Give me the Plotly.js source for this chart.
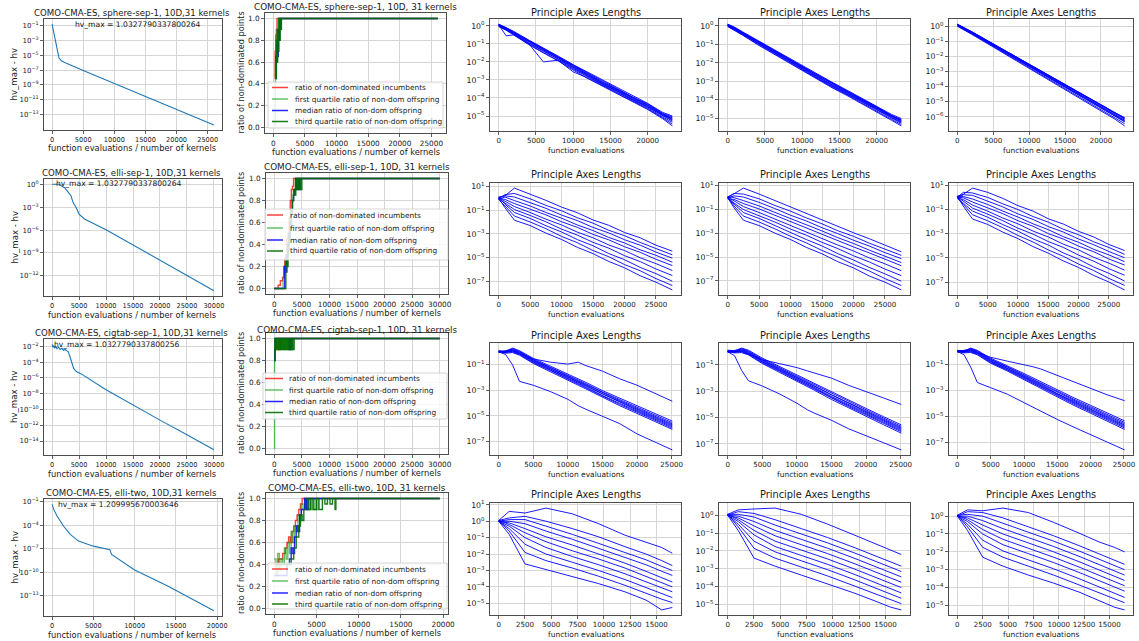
<!DOCTYPE html>
<html><head><meta charset="utf-8">
<script src="https://cdn.plot.ly/plotly-3.0.1.min.js"></script>
<style>html,body{margin:0;padding:0;background:#fff}#chart{width:1139px;height:641px}</style>
</head><body><div id="chart"></div>
<script>
// ---------------- text ----------------
const TITLES_HV = ['COMO-CMA-ES, sphere-sep-1, 10D,31 kernels','COMO-CMA-ES, elli-sep-1, 10D,31 kernels','COMO-CMA-ES, cigtab-sep-1, 10D,31 kernels','COMO-CMA-ES, elli-two, 10D,31 kernels'];
const TITLES_RATIO = ['COMO-CMA-ES, sphere-sep-1, 10D, 31 kernels','COMO-CMA-ES, elli-sep-1, 10D, 31 kernels','COMO-CMA-ES, cigtab-sep-1, 10D, 31 kernels','COMO-CMA-ES, elli-two, 10D, 31 kernels'];
const HV_MAX = ['hv_max = 1.0327790337800264','hv_max = 1.0327790337800264','hv_max = 1.0327790337800256','hv_max = 1.209995670003646'];
const PA_TITLE = 'Principle Axes Lengths';
const LEGEND_LABELS = ['ratio of non-dominated incumbents','first quartile ratio of non-dom offspring','median ratio of non-dom offspring','third quartile ratio of non-dom offspring'];
const XLAB_HV = 'function evaluations / number of kernels';
const XLAB_PA = 'function evaluations';
const YLAB_HV = 'hv_max - hv';
const YLAB_RATIO = 'ratio of non-dominated points';

// ---------------- tick labels ----------------
const HV_EXPS = [[-1,-3,-5,-7,-9,-11,-13],[0,-3,-6,-9,-12],[-2,-4,-6,-8,-10,-12,-14],[-1,-4,-7,-10,-13]];
const PA_EXPS = [[0,-1,-2,-3,-4,-5,-6],[1,-1,-3,-5,-7],[-1,-3,-5,-7],[1,0,-1,-2,-3,-4,-5]];
const RATIO_TICKS = [0,0.2,0.4,0.6,0.8,1.0];
const RATIO_LABELS = ['0.0','0.2','0.4','0.6','0.8','1.0'];

// ---------------- hv_max - hv (log10 values) ----------------
const HV1_X = [0,400,800,1100,1500,2300,5000,10000,15000,20000,26000];
const HV1_LOG = [-0.8,-2.4,-4.1,-5.35,-5.75,-6.1,-7.05,-8.8,-10.55,-12.35,-14.4];
const HV2_X = [0,1300,1700,2300,2900,3500,3900,4500,5000,6000,10000,15000,20000,25000,30000];
const HV2_LOG = [0,0,-0.2,-0.45,-0.95,-1.5,-2.4,-3.1,-3.9,-4.55,-5.95,-7.95,-9.95,-11.95,-13.95];
const HV3_X = [0,150,300,500,700,900,1200,1500,1800,2100,2400,2700,3000,3300,3600,4000,4500,5400,10000,15000,20000,25000,30000];
const HV3_LOG = [-1.75,-2.15,-1.9,-2.25,-2.0,-2.3,-2.15,-2.4,-2.25,-2.5,-2.4,-2.6,-2.7,-3.3,-4.1,-4.8,-5.2,-5.5,-7.5,-9.45,-11.35,-13.2,-15.1];
const HV4_X = [0,200,600,1000,1400,2200,3200,5000,6800,7000,7200,10000,14000,18000,19600];
const HV4_LOG = [-1.3,-1.95,-2.8,-3.5,-4.1,-5.15,-6.0,-6.65,-7.0,-7.1,-7.7,-9.7,-11.75,-13.95,-14.9];

// ---------------- ratio of non-dominated points ----------------
const RAT1_INC_X = [250,300,350,400,450,500,600,700,26000];
const RAT1_INC_Y = [0.45,0.7,0.6,0.85,0.8,0.9,1.0,1.0,1.0];
const RAT1_Q1_X = [250,300,350,400,450,500,550,600,700,800,900,1000,1100,1200,26000];
const RAT1_Q1_Y = [0.0,0.4,0.6,0.45,0.8,0.6,0.9,0.7,0.85,1.0,0.8,1.0,0.9,1.0,1.0];
const RAT1_MED_X = [400,450,500,600,700,800,900,1000,1100,1200,1300,26000];
const RAT1_MED_Y = [0.45,0.65,0.6,0.75,0.65,0.9,0.8,1.0,0.9,1.0,1.0,1.0];
const RAT1_Q3_X = [450,500,600,700,800,900,1000,1100,1200,1300,1400,26000];
const RAT1_Q3_Y = [0.45,0.8,0.6,0.9,0.7,1.0,0.8,1.0,0.9,1.0,1.0,1.0];

const RAT2_INC_X = [0,700,1100,1500,1700,1900,2100,2300,2500,2700,2900,3100,3300,3500,30000];
const RAT2_INC_Y = [0,0.03,0.07,0.1,0.2,0.27,0.3,0.45,0.5,0.65,0.8,0.9,0.93,1.0,1.0];
const RAT2_Q1_X = [0,1600,1800,2000,2200,2400,2600,2800,3000,3200,3400,3600,3800,30000];
const RAT2_Q1_Y = [0,0.1,0.2,0.25,0.3,0.4,0.5,0.6,0.7,0.8,0.85,0.9,1.0,1.0];
const RAT2_MED_X = [0,1900,2100,2300,2500,2700,2900,3100,3300,3500,3700,3900,4100,4300,4500,4700,30000];
const RAT2_MED_Y = [0,0.2,0.15,0.3,0.4,0.5,0.6,0.7,0.8,0.85,0.9,1.0,0.9,1.0,0.9,1.0,1.0];
const RAT2_Q3_X = [0,2100,2300,2500,2700,2900,3100,3300,3500,3700,3900,4100,4300,4500,4700,4900,5000,30000];
const RAT2_Q3_Y = [0,0.25,0.2,0.35,0.45,0.55,0.7,0.8,0.9,0.85,1.0,0.9,1.0,0.9,1.0,0.9,1.0,1.0];

const RAT3_INC_X = [0,100,200,800,900,1000,1100,1200,1300,1400,30000];
const RAT3_INC_Y = [0.8,0.9,1.0,0.9,1.0,0.9,1.0,0.95,1.0,1.0,1.0];
const RAT3_Q1_X = [0,50,150,300,450,600,750,900,1050,1200,1350,1500,1700,1900,2100,2300,2500,2700,2900,3100,3300,3500,30000];
const RAT3_Q1_Y = [0.0,0.8,1.0,0.9,1.0,0.9,1.0,0.9,1.0,0.9,1.0,0.9,1.0,0.9,1.0,0.9,1.0,0.9,1.0,0.9,1.0,1.0,1.0];
const RAT3_MED_X = [0,100,200,2700,2800,2900,3000,30000];
const RAT3_MED_Y = [0.8,0.9,1.0,0.9,1.0,0.9,1.0,1.0];
const RAT3_Q3_X = [0,100,250,400,550,700,850,1000,1150,1300,1450,1600,1800,2000,2200,2400,2600,2800,3000,3200,3400,3600,30000];
const RAT3_Q3_Y = [0.8,1.0,0.9,1.0,0.9,1.0,0.9,1.0,0.9,1.0,0.9,1.0,0.9,1.0,0.9,1.0,0.9,1.0,0.9,1.0,0.9,1.0,1.0];

const RAT4_INC_X = [0,500,1000,1300,1500,1700,1900,2100,2300,2500,2700,2900,3100,3300,19600];
const RAT4_INC_Y = [0.4,0.45,0.5,0.55,0.6,0.65,0.6,0.7,0.75,0.8,0.85,0.9,0.95,1.0,1.0];
const RAT4_Q1_X = [0,200,400,600,800,1000,1200,1400,1600,1800,2000,2200,2400,2600,2800,3000,3200,3400,3600,3800,4000,4200,4400,4600,4800,5000,5200,19600];
const RAT4_Q1_Y = [0.45,0.3,0.5,0.35,0.45,0.4,0.55,0.45,0.6,0.5,0.7,0.6,0.75,0.7,0.85,0.8,0.95,0.9,1.0,0.9,1.0,0.9,1.0,0.9,1.0,0.9,1.0,1.0];
const RAT4_MED_X = [0,1500,1800,2000,2200,2400,2600,2800,3000,3200,3400,3600,3800,4000,19600];
const RAT4_MED_Y = [0.3,0.4,0.45,0.55,0.5,0.65,0.75,0.7,0.85,0.9,0.9,1.0,0.9,1.0,1.0];
const RAT4_Q3_X = [0,2000,2300,2600,2900,3100,3300,3500,3700,4000,4300,4600,5000,5300,5700,6000,6300,6600,6900,7200,7300,19600];
const RAT4_Q3_Y = [0.4,0.45,0.55,0.65,0.75,0.85,0.8,0.9,1.0,0.9,1.0,0.9,1.0,0.9,1.0,0.95,1.0,0.95,1.0,0.9,1.0,1.0];

// ---------------- principal axes lengths (log10 values) ----------------
const R1X = [0,1000,2000,4000,6000,8000,10000,12000,14000,16000,18000,20000,22000,23300];
const PA_R1C3 = [
 [0.08,-0.10,-0.33,-0.80,-1.25,-1.70,-2.18,-2.62,-3.08,-3.50,-3.95,-4.33,-4.85,-5.05],
 [0.05,-0.14,-0.38,-0.86,-1.30,-1.76,-2.25,-2.70,-3.15,-3.55,-4.00,-4.40,-4.90,-5.15],
 [0.02,-0.18,-0.42,-0.92,-1.38,-1.82,-2.32,-2.78,-3.22,-3.62,-4.08,-4.48,-4.97,-5.22],
 [0.06,-0.55,-0.50,-0.95,-1.40,-1.85,-2.35,-2.80,-3.25,-3.65,-4.10,-4.50,-5.00,-5.28],
 [0.00,-0.20,-0.45,-0.97,-2.00,-1.90,-2.40,-2.85,-3.28,-3.70,-4.14,-4.55,-5.05,-5.35],
 [0.10,-0.08,-0.30,-0.78,-1.22,-1.68,-2.15,-2.58,-3.02,-3.45,-3.90,-4.30,-4.80,-5.00],
 [0.03,-0.16,-0.40,-0.88,-1.33,-1.78,-2.28,-2.72,-3.18,-3.58,-4.03,-4.43,-4.93,-5.18],
 [-0.02,-0.22,-0.47,-1.00,-1.47,-1.92,-2.55,-2.90,-3.32,-3.74,-4.18,-4.60,-5.10,-5.45],
 [0.07,-0.12,-0.36,-0.84,-1.28,-1.74,-2.22,-2.66,-3.12,-3.53,-3.98,-4.38,-4.88,-5.10],
 [-0.04,-0.24,-0.50,-1.03,-1.50,-1.95,-2.45,-2.93,-3.36,-3.78,-4.22,-4.64,-5.15,-5.55]];
const PA_R1C4 = [
 [0.10,-0.08,-0.32,-0.78,-1.24,-1.68,-2.14,-2.60,-3.05,-3.48,-3.92,-4.35,-4.80,-5.02],
 [0.06,-0.13,-0.37,-0.85,-1.29,-1.75,-2.22,-2.68,-3.12,-3.56,-4.00,-4.42,-4.88,-5.12],
 [0.03,-0.17,-0.41,-0.90,-1.36,-1.80,-2.30,-2.76,-3.20,-3.63,-4.06,-4.49,-4.95,-5.20],
 [0.00,-0.20,-0.45,-0.94,-1.40,-1.86,-2.36,-2.82,-3.27,-3.68,-4.12,-4.55,-5.02,-5.28],
 [0.08,-0.11,-0.35,-0.82,-1.27,-1.72,-2.19,-2.64,-3.09,-3.52,-3.96,-4.39,-4.85,-5.08],
 [-0.02,-0.23,-0.48,-0.98,-1.45,-1.90,-2.40,-2.87,-3.31,-3.73,-4.17,-4.60,-5.07,-5.35],
 [0.04,-0.15,-0.39,-0.88,-1.33,-1.78,-2.27,-2.72,-3.17,-3.60,-4.03,-4.46,-4.92,-5.16],
 [0.01,-0.19,-0.43,-0.92,-1.38,-1.84,-2.33,-2.79,-3.24,-3.66,-4.09,-4.52,-4.98,-5.24],
 [0.07,-0.12,-0.36,-0.83,-1.28,-1.73,-2.21,-2.66,-3.11,-3.54,-3.98,-4.41,-4.87,-5.10],
 [-0.03,-0.25,-0.50,-1.01,-1.48,-1.94,-2.44,-2.91,-3.35,-3.77,-4.21,-4.64,-5.12,-5.42]];
const PA_R1C5 = [
 [0.14,-0.10,-0.36,-0.90,-1.44,-1.98,-2.51,-3.05,-3.59,-4.13,-4.67,-5.20,-5.74,-6.05],
 [0.10,-0.13,-0.40,-0.94,-1.48,-2.03,-2.57,-3.11,-3.65,-4.20,-4.74,-5.28,-5.82,-6.15],
 [0.07,-0.16,-0.43,-0.98,-1.53,-2.08,-2.62,-3.17,-3.72,-4.27,-4.82,-5.36,-5.91,-6.25],
 [0.04,-0.19,-0.46,-1.02,-1.57,-2.12,-2.67,-3.23,-3.78,-4.33,-4.88,-5.43,-5.98,-6.33],
 [0.12,-0.12,-0.38,-0.92,-1.46,-2.00,-2.54,-3.08,-3.62,-4.16,-4.70,-5.24,-5.78,-6.10],
 [0.02,-0.22,-0.50,-1.06,-1.62,-2.18,-2.73,-3.29,-3.85,-4.41,-4.96,-5.52,-6.08,-6.45],
 [0.08,-0.14,-0.41,-0.96,-1.51,-2.06,-2.60,-3.15,-3.70,-4.24,-4.79,-5.34,-5.88,-6.22],
 [0.05,-0.18,-0.45,-1.00,-1.55,-2.10,-2.65,-3.20,-3.75,-4.30,-4.85,-5.40,-5.95,-6.30],
 [0.11,-0.11,-0.37,-0.91,-1.45,-1.99,-2.53,-3.07,-3.61,-4.15,-4.69,-5.23,-5.77,-6.08],
 [0.00,-0.25,-0.54,-1.10,-1.67,-2.23,-2.79,-3.36,-3.92,-4.48,-5.05,-5.61,-6.17,-6.60]];

const R2X = [0,1000,2500,5000,7500,10000,12500,15000,17500,20000,22500,25000,27600];
const PA_R2C3 = [
 [0.05,0.20,0.85,0.35,-0.18,-0.75,-1.22,-1.83,-2.28,-2.88,-3.33,-3.95,-4.45],
 [-0.05,0.30,0.40,-0.05,-0.60,-1.06,-1.64,-2.10,-2.70,-3.15,-3.72,-4.20,-4.76],
 [0.10,0.20,0.10,-0.35,-0.85,-1.42,-1.88,-2.46,-2.92,-3.49,-3.95,-4.53,-5.04],
 [-0.10,0.10,-0.20,-0.65,-1.20,-1.68,-2.25,-2.72,-3.30,-3.76,-4.34,-4.80,-5.38],
 [0.00,-0.10,-0.45,-0.90,-1.40,-1.98,-2.45,-3.04,-3.50,-4.08,-4.55,-5.14,-5.66],
 [0.05,-0.25,-0.70,-1.20,-1.76,-2.25,-2.85,-3.33,-3.93,-4.40,-5.01,-5.50,-6.08],
 [-0.05,-0.40,-0.95,-1.45,-1.98,-2.60,-3.10,-3.71,-4.20,-4.83,-5.33,-5.95,-6.50],
 [0.10,-0.50,-1.20,-1.70,-2.31,-2.84,-3.48,-4.00,-4.65,-5.17,-5.82,-6.34,-6.98],
 [-0.10,-0.65,-1.50,-2.00,-2.56,-3.21,-3.74,-4.40,-4.92,-5.58,-6.10,-6.76,-7.34],
 [0.00,-0.80,-1.85,-2.30,-2.93,-3.47,-4.13,-4.66,-5.32,-5.85,-6.52,-7.06,-7.71]];
const PA_R2C4 = [
 [0.00,0.30,0.80,0.30,-0.25,-0.80,-1.30,-1.88,-2.38,-2.95,-3.45,-4.02,-4.55],
 [0.05,0.35,0.30,-0.10,-0.66,-1.14,-1.70,-2.20,-2.78,-3.25,-3.82,-4.30,-4.85],
 [-0.05,0.15,0.05,-0.40,-0.92,-1.48,-1.96,-2.53,-3.02,-3.58,-4.06,-4.62,-5.12],
 [0.10,0.00,-0.25,-0.70,-1.24,-1.74,-2.30,-2.80,-3.36,-3.85,-4.41,-4.90,-5.45],
 [-0.10,-0.15,-0.50,-0.95,-1.48,-2.02,-2.52,-3.08,-3.58,-4.14,-4.64,-5.20,-5.72],
 [0.05,-0.30,-0.75,-1.25,-1.80,-2.32,-2.90,-3.40,-3.98,-4.48,-5.06,-5.56,-6.14],
 [0.00,-0.45,-1.00,-1.50,-2.05,-2.64,-3.16,-3.76,-4.28,-4.88,-5.40,-6.00,-6.55],
 [-0.05,-0.55,-1.25,-1.75,-2.35,-2.90,-3.52,-4.06,-4.70,-5.24,-5.86,-6.40,-7.02],
 [0.05,-0.70,-1.55,-2.05,-2.62,-3.25,-3.80,-4.44,-4.98,-5.62,-6.16,-6.80,-7.38],
 [0.00,-0.85,-1.90,-2.35,-2.98,-3.52,-4.18,-4.72,-5.38,-5.90,-6.58,-7.10,-7.75]];
const PA_R2C5 = [
 [0.05,0.25,0.75,0.40,-0.10,-0.70,-1.15,-1.78,-2.22,-2.82,-3.28,-3.90,-4.40],
 [0.00,0.40,0.35,-0.02,-0.55,-1.02,-1.60,-2.06,-2.65,-3.10,-3.68,-4.15,-4.72],
 [-0.05,0.20,0.15,-0.30,-0.80,-1.38,-1.84,-2.42,-2.88,-3.45,-3.92,-4.48,-5.00],
 [0.10,0.05,-0.15,-0.60,-1.15,-1.64,-2.20,-2.68,-3.26,-3.72,-4.30,-4.76,-5.32],
 [0.00,-0.05,-0.40,-0.85,-1.36,-1.94,-2.40,-3.00,-3.46,-4.04,-4.50,-5.10,-5.60],
 [-0.05,-0.20,-0.65,-1.15,-1.72,-2.20,-2.80,-3.28,-3.88,-4.35,-4.96,-5.44,-6.02],
 [0.05,-0.35,-0.90,-1.40,-1.94,-2.56,-3.05,-3.66,-4.15,-4.78,-5.28,-5.90,-6.44],
 [0.00,-0.50,-1.15,-1.65,-2.26,-2.80,-3.44,-3.95,-4.60,-5.12,-5.76,-6.28,-6.92],
 [-0.10,-0.60,-1.45,-1.95,-2.52,-3.16,-3.70,-4.35,-4.88,-5.52,-6.05,-6.70,-7.28],
 [0.05,-0.75,-1.80,-2.25,-2.88,-3.42,-4.08,-4.62,-5.26,-5.80,-6.46,-7.00,-7.65]];

const R3X = [0,1000,2000,3000,5000,7500,10000,11500,12500,15000,17500,20000,22500,25100];
const PA_R3C3 = [
 [0.10,0.05,0.30,0.10,-0.50,-1.10,-1.72,-2.10,-2.35,-3.02,-3.62,-4.20,-4.80,-5.40],
 [0.05,0.00,0.25,0.05,-0.58,-1.18,-1.80,-2.20,-2.45,-3.12,-3.72,-4.30,-4.90,-5.52],
 [0.00,0.10,0.20,0.00,-0.63,-1.24,-1.88,-2.27,-2.52,-3.20,-3.80,-4.40,-5.00,-5.62],
 [0.08,-0.05,0.15,-0.05,-0.68,-1.30,-1.93,-2.33,-2.58,-3.27,-3.88,-4.48,-5.08,-5.70],
 [-0.02,0.05,0.10,-0.10,-0.73,-1.35,-1.99,-2.39,-2.65,-3.33,-3.95,-4.55,-5.15,-5.78],
 [0.03,0.00,0.05,-0.15,-0.78,-1.40,-2.05,-2.45,-2.71,-3.40,-4.02,-4.62,-5.23,-5.86],
 [-0.05,-0.05,0.00,-0.20,-0.84,-1.46,-2.12,-2.52,-2.78,-3.47,-4.10,-4.70,-5.32,-5.95],
 [0.00,-0.10,-0.05,-0.25,-0.90,-1.53,-2.20,-2.60,-2.86,-3.56,-4.20,-4.80,-5.42,-6.05],
 [0.05,0.00,0.10,-0.10,-0.55,-0.80,-0.95,-0.80,-1.05,-1.50,-2.10,-2.60,-3.20,-3.85],
 [0.00,-0.20,-1.00,-2.30,-2.60,-3.10,-3.70,-4.20,-4.45,-5.00,-5.60,-6.40,-7.00,-7.65]];
const PA_R3C4 = [
 [0.12,0.08,0.28,0.12,-0.48,-1.12,-1.75,-2.14,-2.40,-3.08,-3.70,-4.30,-4.92,-5.55],
 [0.06,0.02,0.24,0.06,-0.56,-1.20,-1.84,-2.24,-2.50,-3.18,-3.80,-4.40,-5.02,-5.66],
 [0.02,0.10,0.18,0.00,-0.62,-1.26,-1.90,-2.30,-2.57,-3.26,-3.88,-4.49,-5.11,-5.75],
 [0.09,-0.04,0.14,-0.04,-0.67,-1.32,-1.96,-2.37,-2.63,-3.32,-3.95,-4.56,-5.18,-5.82],
 [-0.01,0.04,0.09,-0.09,-0.72,-1.37,-2.02,-2.43,-2.70,-3.39,-4.02,-4.63,-5.26,-5.90],
 [0.04,0.01,0.04,-0.14,-0.77,-1.42,-2.08,-2.49,-2.76,-3.46,-4.10,-4.71,-5.34,-5.98],
 [-0.04,-0.04,-0.01,-0.19,-0.83,-1.48,-2.15,-2.56,-2.83,-3.53,-4.17,-4.79,-5.42,-6.07],
 [0.01,-0.09,-0.06,-0.24,-0.89,-1.55,-2.23,-2.64,-2.91,-3.62,-4.27,-4.90,-5.53,-6.18],
 [0.05,0.00,0.05,-0.15,-0.60,-0.90,-1.20,-1.45,-1.60,-2.00,-2.55,-3.00,-3.50,-4.00],
 [0.00,-0.30,-1.40,-2.20,-2.60,-3.20,-3.90,-4.40,-4.65,-5.20,-5.85,-6.40,-6.90,-7.45]];
const PA_R3C5 = [
 [0.08,0.04,0.26,0.08,-0.52,-1.08,-1.70,-2.08,-2.33,-3.00,-3.58,-4.16,-4.76,-5.36],
 [0.04,-0.01,0.22,0.04,-0.59,-1.16,-1.79,-2.18,-2.43,-3.10,-3.69,-4.27,-4.87,-5.48],
 [0.00,0.08,0.17,-0.01,-0.64,-1.22,-1.86,-2.25,-2.50,-3.18,-3.77,-4.36,-4.97,-5.58],
 [0.07,-0.06,0.12,-0.06,-0.69,-1.28,-1.92,-2.31,-2.56,-3.25,-3.85,-4.44,-5.05,-5.67],
 [-0.03,0.03,0.07,-0.11,-0.74,-1.33,-1.97,-2.37,-2.63,-3.31,-3.92,-4.51,-5.12,-5.74],
 [0.02,-0.01,0.02,-0.16,-0.79,-1.38,-2.03,-2.43,-2.69,-3.38,-3.99,-4.59,-5.20,-5.82],
 [-0.06,-0.06,-0.03,-0.21,-0.85,-1.44,-2.10,-2.50,-2.76,-3.45,-4.07,-4.67,-5.29,-5.91],
 [-0.01,-0.11,-0.08,-0.26,-0.91,-1.51,-2.18,-2.58,-2.84,-3.54,-4.17,-4.77,-5.39,-6.02],
 [0.05,0.05,0.10,-0.10,-0.45,-0.75,-1.00,-1.20,-1.35,-1.85,-2.35,-2.85,-3.35,-3.80],
 [0.00,-0.25,-1.20,-2.40,-2.80,-3.30,-3.95,-4.35,-4.60,-5.25,-5.85,-6.45,-7.00,-7.60]];

const R4X = [0,1000,2500,4500,7000,9500,12000,14000,15500,16500];
const PA_R4C3 = [
 [0.05,0.60,0.50,0.80,0.45,-0.15,-0.85,-1.28,-1.60,-1.95],
 [0.05,0.20,0.30,0.00,-0.45,-0.95,-1.55,-2.00,-2.40,-2.70],
 [0.00,0.10,0.10,-0.30,-0.80,-1.35,-1.90,-2.35,-2.75,-3.00],
 [0.00,0.00,-0.15,-0.60,-1.10,-1.65,-2.20,-2.65,-3.05,-3.30],
 [0.00,-0.10,-0.45,-0.95,-1.45,-2.00,-2.55,-3.05,-3.45,-3.70],
 [0.05,-0.20,-0.70,-1.25,-1.80,-2.30,-2.85,-3.35,-3.75,-4.00],
 [0.00,-0.30,-1.00,-1.60,-2.15,-2.65,-3.20,-3.70,-4.05,-4.30],
 [0.00,-0.45,-1.40,-2.00,-2.50,-3.00,-3.55,-4.05,-4.40,-4.65],
 [0.05,-0.60,-1.90,-2.40,-2.85,-3.35,-3.90,-4.40,-4.75,-4.95],
 [0.00,-0.80,-2.60,-2.95,-3.40,-3.80,-4.30,-4.80,-5.40,-5.25]];
const PA_R4C4 = [
 [0.05,0.30,0.35,0.40,0.05,-0.50,-1.10,-1.60,-1.95,-2.20],
 [0.00,0.20,0.10,-0.25,-0.75,-1.25,-1.80,-2.25,-2.60,-2.85],
 [0.05,0.05,-0.10,-0.55,-1.05,-1.55,-2.10,-2.55,-2.90,-3.15],
 [0.00,-0.05,-0.35,-0.85,-1.35,-1.85,-2.40,-2.85,-3.20,-3.45],
 [0.00,-0.15,-0.60,-1.15,-1.65,-2.15,-2.70,-3.15,-3.50,-3.75],
 [0.05,-0.25,-0.85,-1.45,-1.95,-2.45,-3.00,-3.45,-3.80,-4.05],
 [0.00,-0.35,-1.10,-1.75,-2.25,-2.75,-3.30,-3.75,-4.10,-4.35],
 [0.00,-0.50,-1.45,-2.05,-2.55,-3.05,-3.60,-4.05,-4.40,-4.65],
 [0.05,-0.65,-1.85,-2.40,-2.90,-3.40,-3.95,-4.40,-4.75,-4.95],
 [0.00,-0.85,-2.40,-2.85,-3.35,-3.85,-4.35,-4.80,-5.15,-5.30]];
const PA_R4C5 = [
 [0.05,0.35,0.30,0.45,0.20,-0.35,-0.95,-1.45,-1.75,-2.00],
 [0.00,0.25,0.20,-0.10,-0.60,-1.10,-1.65,-2.10,-2.45,-2.70],
 [0.05,0.10,0.00,-0.40,-0.90,-1.40,-1.95,-2.40,-2.75,-3.00],
 [0.00,0.00,-0.25,-0.70,-1.20,-1.70,-2.25,-2.70,-3.05,-3.30],
 [0.00,-0.10,-0.50,-1.00,-1.50,-2.00,-2.55,-3.00,-3.35,-3.60],
 [0.05,-0.20,-0.75,-1.30,-1.80,-2.30,-2.85,-3.30,-3.65,-3.90],
 [0.00,-0.30,-1.00,-1.60,-2.10,-2.60,-3.15,-3.60,-3.95,-4.20],
 [0.00,-0.45,-1.35,-1.95,-2.45,-2.95,-3.50,-3.95,-4.30,-4.55],
 [0.05,-0.60,-1.75,-2.30,-2.80,-3.30,-3.85,-4.30,-4.65,-4.85],
 [0.00,-0.80,-2.30,-2.80,-3.30,-3.75,-4.25,-4.75,-5.10,-5.25]];

// ---------------- geometry (pixels) ----------------
const W = 1139, H = 641;
const FONT = 'DejaVu Sans, Liberation Sans, sans-serif';
const TXT = '#1a1a1a';
const BOX_C1 = [[44,222,19,130],[44,222,179,296],[44,222,339,455],[44,222,499,616]];
const BOX_C2 = [[265,446,13,133],[266,448,173,294],[266,448,333,454],[266,448,493,614]];
const PA_COLS = [[490,681],[719,910],[949,1133]];
const PA_Y = [[19,131],[183,295],[343,455],[503,615]];

const HV_DATA = [[HV1_X,HV1_LOG],[HV2_X,HV2_LOG],[HV3_X,HV3_LOG],[HV4_X,HV4_LOG]];
const RAT_DATA = [
 [[RAT1_INC_X,RAT1_INC_Y],[RAT1_Q1_X,RAT1_Q1_Y],[RAT1_MED_X,RAT1_MED_Y],[RAT1_Q3_X,RAT1_Q3_Y]],
 [[RAT2_INC_X,RAT2_INC_Y],[RAT2_Q1_X,RAT2_Q1_Y],[RAT2_MED_X,RAT2_MED_Y],[RAT2_Q3_X,RAT2_Q3_Y]],
 [[RAT3_INC_X,RAT3_INC_Y],[RAT3_Q1_X,RAT3_Q1_Y],[RAT3_MED_X,RAT3_MED_Y],[RAT3_Q3_X,RAT3_Q3_Y]],
 [[RAT4_INC_X,RAT4_INC_Y],[RAT4_Q1_X,RAT4_Q1_Y],[RAT4_MED_X,RAT4_MED_Y],[RAT4_Q3_X,RAT4_Q3_Y]]];
const PA_X = [R1X,R2X,R3X,R4X];
const PA_DATA = [[PA_R1C3,PA_R1C4,PA_R1C5],[PA_R2C3,PA_R2C4,PA_R2C5],[PA_R3C3,PA_R3C4,PA_R3C5],[PA_R4C3,PA_R4C4,PA_R4C5]];

const RAT_COLORS = ['rgba(255,0,0,0.75)','rgba(0,150,0,0.6)','rgba(0,0,255,0.85)','rgba(0,110,0,0.9)'];
// legend geometry per row: [boxL, boxR, boxT, boxB, handleL, handleR, textL, item y's]
const LEG = [
 [268,443,82,128,272,288,293,[87.5,99,110.5,121.5]],
 [265,448,209,260,267,283,288,[215,228,240,251]],
 [263,447,373,419,265,283,287,[378.5,390,401.5,412.5]],
 [268,447,563,609,272,288,293,[569,581,593,604]]];

// ---------------- helpers ----------------
const layout = {width:W, height:H, margin:{l:0,r:0,t:0,b:0}, paper_bgcolor:'#fff', plot_bgcolor:'#fff',
  showlegend:false, annotations:[], shapes:[], font:{family:FONT, color:TXT}};
const traces = [];
let axN = 0;
function pad(lo, hi){ const d = hi - lo; return [lo - 0.05*d, hi + 0.05*d]; }
function ext(arrs){ let lo=Infinity, hi=-Infinity; arrs.forEach(a=>a.forEach(v=>{ if(v<lo)lo=v; if(v>hi)hi=v; })); return [lo,hi]; }
function sup(k){ return '10<sup>' + (k<0 ? '\u2212'+(-k) : String(k)) + '</sup>'; }
function axes(box, xr, yr, xo, yo){
  axN++;
  const s = axN===1 ? '' : String(axN);
  const base = {showline:true, mirror:true, linecolor:'#3a3a3a', linewidth:0.9, ticks:'outside', ticklen:3,
    tickwidth:0.8, tickcolor:'#3a3a3a', showgrid:true, gridcolor:'#d2d2d2', gridwidth:0.9, zeroline:false,
    fixedrange:true, automargin:false, layer:'above traces', ticklabeloverflow:'allow'};
  layout['xaxis'+s] = Object.assign({}, base, {domain:[box[0]/W, box[1]/W], range:xr, anchor:'y'+s}, xo);
  layout['yaxis'+s] = Object.assign({}, base, {domain:[1-box[3]/H, 1-box[2]/H], range:yr, anchor:'x'+s}, yo);
  return ['x'+s, 'y'+s];
}
function ann(text, px, py, size, o){
  layout.annotations.push(Object.assign({text:text, x:px/W, y:1-py/H, xref:'paper', yref:'paper', showarrow:false,
    font:{family:FONT, size:size, color:TXT}, xanchor:'center', yanchor:'middle'}, o||{}));
}
function logAxis(exps, yr, size){
  return {type:'log', range:yr, tickvals:exps.map(k=>Math.pow(10,k)), ticktext:exps.map(sup), tickfont:{family:FONT,size:size,color:TXT}};
}

// ---------------- column 1: hv_max - hv ----------------
const HV_TITLE_Y = [13, 173, 333, 493], HV_TEXT_Y = [24.5, 183.5, 344, 504.5], HV_TEXT_X = [138, 119, 117, 118];
HV_DATA.forEach((d, r)=>{
  const box = BOX_C1[r];
  const xr = pad(Math.min(...d[0]), Math.max(...d[0]));
  const yr = pad(Math.min(...d[1]), Math.max(...d[1]));
  const [xa, ya] = axes(box, xr, yr,
    {tickmode:'linear', tick0:0, dtick:5000, tickformat:'d', tickfont:{family:FONT,size:6.6,color:TXT}},
    logAxis(HV_EXPS[r], yr, 7));
  traces.push({type:'scatter', mode:'lines', x:d[0], y:d[1].map(v=>Math.pow(10,v)), xaxis:xa, yaxis:ya,
    line:{color:'#1f77b4', width:1.1}, hoverinfo:'skip'});
  ann(TITLES_HV[r], 131.5, HV_TITLE_Y[r], 8.6);
  ann(HV_MAX[r], HV_TEXT_X[r], HV_TEXT_Y[r], 7.6);
  ann(XLAB_HV, 131.5, box[3]+18.5, 8.3);
  ann(YLAB_HV, 14, (box[2]+box[3])/2, 8.6, {textangle:-90});
});

// ---------------- column 2: ratio of non-dominated points ----------------
const RAT_TITLE_Y = [7, 167, 329.5, 488.5];
RAT_DATA.forEach((series, r)=>{
  const box = BOX_C2[r];
  const [lo, hi] = ext(series.map(s=>s[0]));
  const xr = pad(0, hi);
  const [xa, ya] = axes(box, xr, [-0.05, 1.05],
    {tickmode:'linear', tick0:0, dtick:5000, tickformat:'d', tickfont:{family:FONT,size:7.3,color:TXT}},
    {tickvals:RATIO_TICKS, ticktext:RATIO_LABELS, tickfont:{family:FONT,size:7.3,color:TXT}});
  series.forEach((s, k)=>{
    traces.push({type:'scatter', mode:'lines', x:s[0], y:s[1], xaxis:xa, yaxis:ya, name:LEGEND_LABELS[k],
      line:{color:RAT_COLORS[k], width:1.4, shape:'hv'}, hoverinfo:'skip'});
  });
  const cx = (box[0]+box[1])/2;
  ann(TITLES_RATIO[r], cx, RAT_TITLE_Y[r], 8.8);
  ann(XLAB_HV, cx, box[3]+19, 8.3);
  ann(YLAB_RATIO, 240.5, (box[2]+box[3])/2, 8.2, {textangle:-90});
  const L = LEG[r];
  layout.shapes.push({type:'rect', xref:'paper', yref:'paper', x0:L[0]/W, x1:L[1]/W, y0:1-L[3]/H, y1:1-L[2]/H,
    fillcolor:'rgba(255,255,255,0.82)', line:{color:'#cccccc', width:0.8}, layer:'above'});
  L[7].forEach((yy, k)=>{
    layout.shapes.push({type:'line', xref:'paper', yref:'paper', x0:L[4]/W, x1:L[5]/W, y0:1-yy/H, y1:1-yy/H,
      line:{color:RAT_COLORS[k], width:1.5}, layer:'above'});
    ann(LEGEND_LABELS[k], L[6], yy, 7.4, {xanchor:'left'});
  });
});

// ---------------- columns 3-5: principal axes lengths ----------------
const PA_TITLE_Y = [12.5, 175, 335, 495];
const PA_DTICK = [5000, 5000, 5000, 2500];
PA_DATA.forEach((row, r)=>{
  const xs = PA_X[r];
  row.forEach((lines, c)=>{
    const box = [PA_COLS[c][0], PA_COLS[c][1], PA_Y[r][0], PA_Y[r][1]];
    const xr = pad(Math.min(...xs), Math.max(...xs));
    const [lo, hi] = ext(lines);
    const yr = pad(lo, hi);
    const [xa, ya] = axes(box, xr, yr,
      {tickmode:'linear', tick0:0, dtick:PA_DTICK[r], tickformat:'d', tickfont:{family:FONT,size:7.1,color:TXT}},
      logAxis(PA_EXPS[r], yr, 7.8));
    lines.forEach(l=>{
      traces.push({type:'scatter', mode:'lines', x:xs, y:l.map(v=>Math.pow(10,v)), xaxis:xa, yaxis:ya,
        line:{color:'#0000ff', width:0.9}, hoverinfo:'skip'});
    });
    const cx = (box[0]+box[1])/2;
    ann(PA_TITLE, cx, PA_TITLE_Y[r], 9.8);
    ann(XLAB_PA, cx, box[3]+19.5, 7.5);
  });
});

Plotly.newPlot('chart', traces, layout, {staticPlot:true, displayModeBar:false});
</script></body></html>
